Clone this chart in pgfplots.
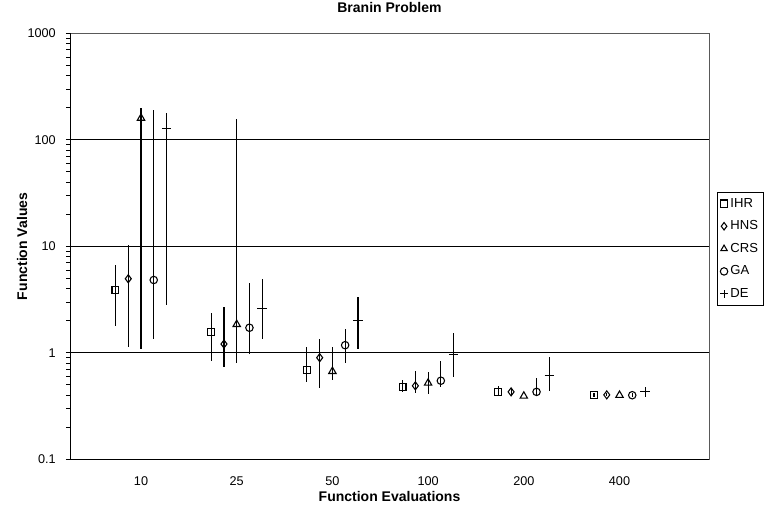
\documentclass[border=0pt]{standalone}
\usepackage{fontspec}
\setmainfont{Liberation Sans}
\usepackage{pgfplots}
\pgfplotsset{compat=1.18}
\usepackage{pgfplotstable}

\pgfplotstableread{
x y hi lo
-0.267 3.86 6.67 1.80
0.733 1.56 2.35 0.84
1.733 0.69 1.13 0.535
2.733 0.48 0.56 0.43
3.733 0.43 0.49 0.39
4.733 0.40 0.42 0.385
}\IHR
\pgfplotstableread{
x y hi lo
-0.133 4.96 10.3 1.14
0.867 1.21 2.71 0.73
1.867 0.90 1.36 0.467
2.867 0.49 0.68 0.417
3.867 0.43 0.464 0.395
4.867 0.403 0.42 0.39
}\HNS
\pgfplotstableread{
x y hi lo
0 160 198 1.08
1 1.85 156 0.80
2 0.67 1.14 0.556
3 0.52 0.665 0.41
4 0.393 0.393 0.393
5 0.40 0.40 0.40
}\CRS
\pgfplotstableread{
x y hi lo
0.133 4.83 190 1.34
1.133 1.72 4.5 0.97
2.133 1.18 1.66 0.81
3.133 0.547 0.84 0.48
4.133 0.43 0.577 0.393
5.133 0.40 0.42 0.385
}\GA
\pgfplotstableread{
x y hi lo
0.267 128 177 2.81
1.267 2.60 4.96 1.35
2.267 2.0 3.36 1.09
3.267 0.97 1.52 0.597
4.267 0.61 0.92 0.438
5.267 0.43 0.43 0.43
}\DE

\begin{document}
\begin{tikzpicture}[x=1pt,y=1pt]
\path[use as bounding box] (0,0) rectangle (578.25,382.5);
\begin{axis}[
  at={(52.5pt,38pt)}, anchor=south west,
  width=479.25pt, height=319.5pt, scale only axis,
  ymode=log, ymin=0.1, ymax=1000,
  xmin=-0.742, xmax=5.935,
  xtick={0,1,2,3,4,5},
  xticklabels={10,25,50,100,200,400},
  ytick={0.1,1,10,100,1000},
  yticklabels={0.1,1,10,100,1000},
  minor ytick={},
  ytick pos=left, xtick pos=bottom,
  tick align=outside,
  major tick length=3pt,
  xtick style={draw=none},
  ytick style={black, line width=0.6pt},
  ymajorgrids, grid style={black, line width=0.75pt},
  axis line style={gray!70!black, line width=0.6pt},
  ticklabel style={font=\fontsize{9.5}{11}\selectfont},
  xticklabel style={anchor=base, yshift=-16.8pt},
  yticklabel style={anchor=east, inner sep=0pt, xshift=-7.5pt},
  title={Branin Problem},
  title style={at={(axis description cs:0.5,1.0305)}, anchor=base, font=\bfseries\fontsize{10.5}{12}\selectfont},
  xlabel={Function Evaluations},
  xlabel style={at={(axis description cs:0.5,-0.1)}, anchor=base, font=\bfseries\fontsize{10.5}{12}\selectfont},
  ylabel={Function Values},
  ylabel style={at={(axis description cs:-0.0751,0.5)}, anchor=center, font=\bfseries\fontsize{10.5}{12}\selectfont},
  legend style={at={(axis description cs:1.0125,0.627)}, anchor=north west,
    draw=black, line width=0.6pt, font=\fontsize{9.8}{11}\selectfont,
    row sep=4.6pt, inner sep=2.2pt, cells={anchor=west}},
  legend image post style={line width=0.7pt, mark size=2.8pt},
  legend image code/.code={\draw[#1] plot coordinates {(0.2cm,0cm)};},
  error bars/y dir=both, error bars/y explicit,
  error bars/error mark=none,
  error bars/error bar style={black, line width=0.8pt},
]
\addplot[only marks, mark=square, mark size=2.6pt, mark options={black, line width=0.8pt, fill=none}]
  table[x=x, y=y, y error plus expr=\thisrow{hi}-\thisrow{y}, y error minus expr=\thisrow{y}-\thisrow{lo}] {\IHR};
\addlegendentry{IHR}
\addplot[only marks, mark=diamond, mark size=3pt, mark options={black, line width=0.8pt, fill=none}]
  table[x=x, y=y, y error plus expr=\thisrow{hi}-\thisrow{y}, y error minus expr=\thisrow{y}-\thisrow{lo}] {\HNS};
\addlegendentry{HNS}
\addplot[only marks, mark=triangle, mark size=3.2pt, mark options={black, line width=0.8pt, fill=none}]
  table[x=x, y=y, y error plus expr=\thisrow{hi}-\thisrow{y}, y error minus expr=\thisrow{y}-\thisrow{lo}] {\CRS};
\addlegendentry{CRS}
\addplot[only marks, mark=o, mark size=2.8pt, mark options={black, line width=0.8pt, fill=none}]
  table[x=x, y=y, y error plus expr=\thisrow{hi}-\thisrow{y}, y error minus expr=\thisrow{y}-\thisrow{lo}] {\GA};
\addlegendentry{GA}
\addplot[only marks, mark=+, mark size=3.6pt, mark options={black, line width=0.8pt}]
  table[x=x, y=y, y error plus expr=\thisrow{hi}-\thisrow{y}, y error minus expr=\thisrow{y}-\thisrow{lo}] {\DE};
\addlegendentry{DE}
\draw[black, line width=1.1pt] (rel axis cs:0,1) -- (rel axis cs:0,0) -- (rel axis cs:1,0);
\end{axis}
\end{tikzpicture}
\end{document}
